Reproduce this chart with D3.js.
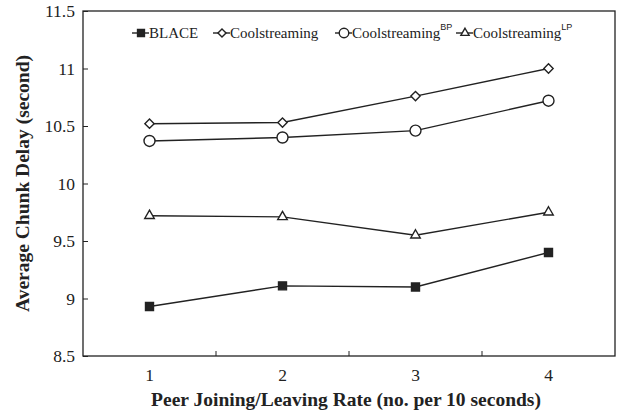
<!DOCTYPE html>
<html>
<head>
<meta charset="utf-8">
<script src="https://cdn.jsdelivr.net/npm/d3@7"></script>
<style>
body { margin: 0; background: #fff; }
svg text { font-family: "Liberation Serif", "Times New Roman", serif; fill: #222; }
</style>
</head>
<body>
<svg id="chart" width="629" height="414"></svg>
<script>
var rates = ["1", "2", "3", "4"];
var blace = [8.93, 9.11, 9.10, 9.40];
var cool = [10.52, 10.53, 10.76, 11.00];
var coolBP = [10.37, 10.40, 10.46, 10.72];
var coolLP = [9.72, 9.71, 9.55, 9.75];
var yTicks = [8.5, 9, 9.5, 10, 10.5, 11, 11.5];

var series = [
	{name: "BLACE", sup: "", values: blace, shape: d3.symbolSquare, fill: "#222", size: 64},
	{name: "Coolstreaming", sup: "", values: cool, shape: d3.symbolDiamond2, fill: "#fff", size: 55},
	{name: "Coolstreaming", sup: "BP", values: coolBP, shape: d3.symbolCircle, fill: "#fff", size: 95},
	{name: "Coolstreaming", sup: "LP", values: coolLP, shape: d3.symbolTriangle2, fill: "#fff", size: 65}
];

// plot box (window.top is read-only, so avoid "top" as a global name)
var box = {left: 83, right: 615, top: 11, bottom: 356};
var chart = d3.select("#chart");

var x = d3.scaleBand().domain(rates).range([box.left, box.right]);
var y = d3.scaleLinear().domain([8.5, 11.5]).range([box.bottom, box.top]);

// frame
chart.append("rect").attr("x", box.left).attr("y", box.top).attr("width", box.right - box.left).attr("height", box.bottom - box.top)
	.attr("fill", "none").attr("stroke", "#222").attr("stroke-width", 1.3);

// y axis, ticks pointing inward
var yaxis = chart.append("g").attr("transform", "translate(" + box.left + ",0)")
	.call(d3.axisRight(y).tickValues(yTicks).tickSize(5).tickFormat(d3.format("")));
yaxis.select(".domain").remove();
yaxis.selectAll("line").attr("stroke", "#222");
yaxis.selectAll("text").attr("x", -8).attr("text-anchor", "end").attr("fill", "#222").style("font-size", "17.5px");

// x axis: ticks on band boundaries, labels at band centres
var xaxis = chart.append("g").attr("transform", "translate(0," + box.bottom + ")");
xaxis.selectAll("line").data(rates.slice(1)).enter().append("line")
	.attr("x1", function(d) {return x(d);}).attr("x2", function(d) {return x(d);})
	.attr("y1", 0).attr("y2", -5).attr("stroke", "#222");
xaxis.selectAll("text").data(rates).enter().append("text")
	.attr("x", function(d) {return x(d) + x.bandwidth() / 2;}).attr("y", 25)
	.attr("text-anchor", "middle").style("font-size", "17.5px").text(function(d) {return d;});

// axis titles
chart.append("text").attr("x", (box.left + box.right) / 2 - 3).attr("y", 406).attr("text-anchor", "middle")
	.style("font-size", "19.5px").style("font-weight", "bold")
	.text("Peer Joining/Leaving Rate (no. per 10 seconds)");
chart.append("text").attr("transform", "translate(29," + ((box.top + box.bottom) / 2) + ") rotate(-90)")
	.attr("text-anchor", "middle").style("font-size", "19.5px").style("font-weight", "bold")
	.text("Average Chunk Delay (second)");

var line = d3.line()
	.x(function(d, i) {return x(rates[i]) + x.bandwidth() / 2;})
	.y(function(d) {return y(d);});

series.forEach(function(s) {
	chart.append("path").attr("d", line(s.values)).attr("fill", "none").attr("stroke", "#222").attr("stroke-width", 1.4);
	chart.selectAll(null).data(s.values).enter().append("path")
		.attr("transform", function(d, i) {return "translate(" + (x(rates[i]) + x.bandwidth() / 2) + "," + y(d) + ")";})
		.attr("d", d3.symbol().type(s.shape).size(s.size))
		.attr("fill", s.fill).attr("stroke", "#222").attr("stroke-width", 1.4);
});

// legend
var legendX = [132, 213, 335, 456];
var legend = chart.selectAll("g.legend").data(series).enter().append("g").attr("class", "legend")
	.attr("transform", function(s, i) {return "translate(" + legendX[i] + ",33)";});
legend.append("line").attr("x1", 0).attr("x2", 17).attr("stroke", "#222").attr("stroke-width", 1.4);
legend.append("path").attr("transform", "translate(9,0)")
	.attr("d", function(s) {return d3.symbol().type(s.shape).size(s.size * 0.75)();})
	.attr("fill", function(s) {return s.fill;}).attr("stroke", "#222").attr("stroke-width", 1.4);
var lt = legend.append("text").attr("x", 17).attr("y", 5).style("font-size", "15px");
lt.append("tspan").text(function(s) {return s.name;});
lt.append("tspan").attr("dy", -8).style("font-size", "9px").style("font-family", "Liberation Sans, sans-serif")
	.text(function(s) {return s.sup;});
</script>
</body>
</html>
